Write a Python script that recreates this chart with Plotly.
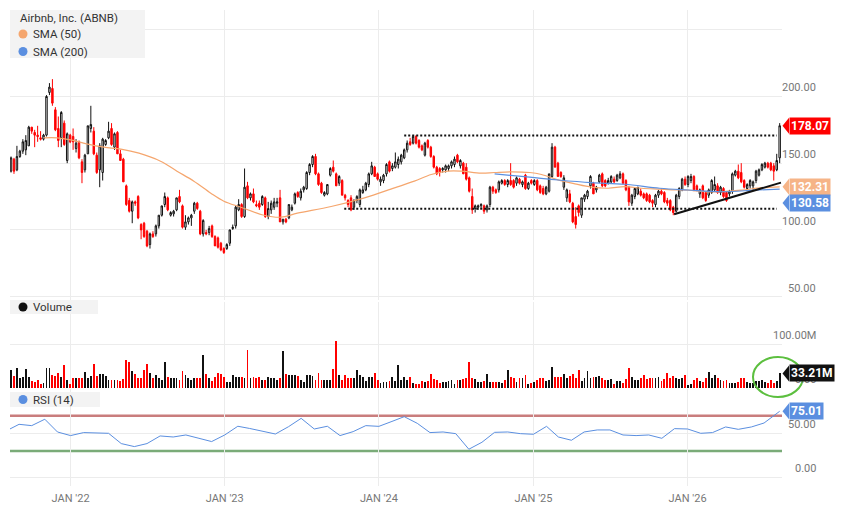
import pandas as pd
import plotly.graph_objects as go

# weekly candles, Aug 2021 -> Aug 2026
weeks = pd.date_range("2021-08-13", periods=261, freq="7D")

opens = [144, 153, 145, 155, 159, 160, 163, 177, 173, 171,
         169, 168, 171, 203, 206, 190, 176, 169, 180, 152,
         171, 170, 161, 166, 151, 145, 157, 176, 174, 156,
         145, 143, 164, 169, 176, 162, 173, 157, 153, 133,
         122, 114, 121, 125, 104, 105, 99, 89, 97, 97,
         103, 111, 119, 124, 111, 112, 115, 125, 118, 102,
         106, 109, 114, 120, 114, 97, 98, 98, 103, 95,
         94, 90, 86, 86, 90, 101, 103, 115, 119, 110,
         133, 124, 127, 119, 120, 119, 124, 110, 115, 117,
         120, 124, 106, 108, 109, 115, 120, 128, 124, 130,
         131, 143, 149, 155, 142, 135, 126, 127, 141, 147,
         142, 135, 137, 126, 122, 124, 117, 122, 119, 128,
         130, 134, 142, 147, 142, 136, 137, 142, 151, 146,
         147, 149, 151, 154, 160, 166, 165, 170, 167, 163,
         156, 167, 162, 155, 147, 146, 145, 145, 146, 148,
         149, 156, 148, 150, 147, 139, 125, 116, 117, 118,
         118, 115, 119, 132, 130, 130, 135, 137, 134, 137,
         137, 135, 138, 134, 141, 131, 137, 134, 137, 133,
         131, 127, 129, 140, 162, 150, 143, 132, 124, 127,
         120, 110, 118, 111, 123, 125, 133, 135, 130, 136,
         142, 137, 135, 136, 138, 137, 139, 142, 137, 132,
         120, 125, 127, 129, 127, 127, 126, 122, 119, 126,
         129, 128, 122, 122, 117, 114, 125, 130, 138, 134,
         137, 140, 133, 127, 133, 128, 126, 128, 130, 133,
         128, 131, 128, 127, 129, 141, 144, 143, 137, 131,
         133, 133, 137, 141, 145, 147, 150, 150, 148, 145, 154]
highs = [155, 154, 163, 160, 168, 171, 178, 177, 175, 178,
         174, 172, 201, 210, 213, 192, 185, 189, 182, 173,
         172, 176, 168, 167, 153, 157, 178, 193, 177, 158,
         165, 169, 168, 181, 180, 173, 174, 160, 154, 134,
         124, 122, 122, 126, 105, 106, 100, 98, 99, 104,
         111, 118, 128, 125, 114, 115, 124, 130, 119, 111,
         110, 112, 121, 121, 115, 108, 100, 103, 104, 96,
         95, 91, 87, 90, 100, 104, 118, 123, 120, 146,
         136, 128, 131, 122, 122, 126, 125, 121, 122, 124,
         124, 130, 108, 109, 119, 119, 128, 129, 131, 133,
         144, 150, 156, 157, 143, 136, 129, 134, 147, 152,
         143, 141, 138, 127, 123, 126, 123, 126, 131, 133,
         136, 143, 151, 148, 143, 140, 142, 150, 152, 150,
         158, 155, 157, 161, 167, 169, 171, 171, 168, 164,
         166, 168, 163, 156, 148, 147, 147, 149, 149, 152,
         155, 157, 153, 151, 150, 140, 131, 119, 119, 120,
         119, 119, 133, 133, 131, 137, 138, 138, 138, 150,
         138, 140, 139, 137, 142, 136, 138, 138, 138, 134,
         133, 133, 142, 165, 163, 151, 144, 141, 131, 130,
         121, 117, 119, 124, 127, 130, 141, 136, 133, 142,
         143, 138, 139, 141, 140, 142, 144, 143, 138, 133,
         127, 131, 132, 131, 128, 128, 127, 123, 127, 130,
         131, 129, 124, 123, 118, 127, 132, 139, 140, 141,
         142, 141, 134, 131, 134, 129, 131, 138, 140, 135,
         133, 132, 129, 130, 143, 145, 149, 150, 138, 135,
         138, 137, 145, 146, 150, 151, 151, 151, 150, 157, 180]
lows = [143, 142, 144, 154, 157, 156, 163, 172, 162, 166,
        167, 167, 170, 201, 193, 174, 162, 162, 163, 150,
        165, 160, 158, 153, 135, 143, 157, 173, 156, 142,
        132, 137, 163, 168, 163, 160, 157, 152, 136, 118,
        113, 105, 118, 108, 93, 94, 87, 86, 94, 95,
        101, 110, 117, 114, 110, 110, 114, 120, 101, 100,
        104, 103, 112, 115, 96, 95, 96, 96, 94, 88,
        86, 84, 82, 85, 88, 100, 101, 114, 109, 109,
        123, 122, 120, 117, 115, 118, 109, 108, 112, 115,
        117, 106, 104, 105, 108, 114, 119, 124, 122, 128,
        130, 141, 147, 141, 133, 127, 125, 126, 140, 143,
        133, 133, 126, 122, 117, 114, 115, 120, 117, 127,
        129, 132, 141, 140, 137, 133, 135, 140, 143, 144,
        146, 146, 149, 153, 158, 163, 164, 164, 161, 159,
        155, 161, 154, 146, 141, 140, 143, 143, 144, 146,
        147, 150, 146, 142, 137, 128, 112, 113, 115, 116,
        112, 113, 117, 127, 127, 128, 134, 133, 132, 133,
        131, 133, 134, 132, 130, 130, 134, 133, 129, 127,
        126, 126, 128, 139, 147, 140, 139, 130, 121, 120,
        105, 101, 110, 109, 121, 123, 131, 127, 128, 135,
        132, 132, 134, 135, 135, 136, 138, 134, 129, 118,
        118, 123, 126, 125, 123, 121, 120, 117, 117, 124,
        126, 120, 118, 114, 111, 113, 123, 129, 133, 132,
        135, 129, 129, 124, 123, 121, 124, 127, 129, 127,
        126, 124, 121, 125, 127, 140, 138, 135, 131, 129,
        131, 130, 135, 140, 144, 146, 146, 144, 137, 144, 150]
closes = [154, 144, 155, 159, 166, 167, 177, 174, 171, 170,
          168, 171, 200, 207, 195, 175, 167, 188, 164, 172,
          166, 166, 165, 154, 143, 156, 178, 179, 157, 143,
          163, 168, 167, 174, 164, 172, 157, 152, 136, 119,
          114, 121, 120, 109, 100, 95, 88, 97, 95, 103,
          111, 118, 125, 115, 113, 114, 124, 121, 102, 106,
          109, 111, 120, 116, 97, 107, 97, 101, 95, 88,
          87, 85, 83, 89, 100, 102, 117, 119, 110, 132,
          124, 127, 121, 118, 117, 125, 110, 116, 120, 121,
          121, 106, 108, 106, 119, 117, 127, 125, 129, 132,
          143, 149, 155, 142, 134, 128, 128, 134, 146, 144,
          133, 140, 126, 124, 119, 115, 122, 125, 130, 130,
          135, 142, 148, 140, 138, 138, 141, 149, 144, 148,
          151, 153, 156, 160, 165, 164, 170, 165, 162, 160,
          165, 162, 155, 147, 142, 143, 146, 148, 148, 151,
          153, 151, 152, 142, 138, 129, 115, 118, 118, 119,
          114, 118, 132, 129, 128, 136, 137, 134, 137, 134,
          132, 139, 135, 136, 131, 135, 135, 137, 130, 128,
          127, 132, 142, 162, 147, 140, 140, 139, 130, 121,
          106, 104, 113, 124, 126, 129, 140, 127, 132, 141,
          133, 133, 137, 140, 136, 141, 142, 135, 130, 121,
          126, 131, 132, 126, 124, 122, 121, 120, 126, 129,
          127, 121, 120, 115, 113, 126, 131, 138, 134, 140,
          140, 130, 130, 130, 124, 122, 130, 137, 134, 128,
          132, 125, 122, 129, 142, 144, 139, 136, 132, 134,
          137, 136, 144, 145, 149, 150, 147, 145, 144, 152, 178.07]

# weekly volume, millions of shares
volume_m = [41, 28, 46, 23, 25, 43, 25, 15, 14, 18,
            10, 12, 46, 46, 29, 27, 35, 25, 52, 18,
            9, 23, 23, 23, 22, 37, 23, 28, 55, 28,
            32, 32, 28, 18, 18, 18, 18, 16, 21, 64,
            60, 38, 31, 23, 22, 42, 54, 35, 23, 29,
            23, 18, 60, 25, 22, 22, 23, 18, 38, 29,
            23, 19, 23, 22, 23, 75, 32, 23, 15, 25,
            35, 32, 25, 14, 14, 29, 25, 25, 25, 23,
            87, 23, 25, 23, 25, 18, 18, 25, 23, 23,
            19, 23, 83, 32, 29, 29, 29, 28, 19, 14,
            29, 29, 28, 19, 35, 18, 18, 18, 18, 43,
            106, 29, 19, 29, 23, 23, 23, 42, 29, 25,
            15, 25, 25, 35, 18, 12, 14, 14, 15, 25,
            15, 52, 18, 24, 18, 25, 12, 10, 10,
            15, 14, 15, 32, 20, 18, 12, 14, 14, 16,
            18, 8, 18, 18, 20, 22, 60, 22, 20, 14,
            14, 16, 32, 14, 14, 14, 14, 12, 18,
            41, 25, 23, 14, 22, 22, 29, 8, 12, 14,
            18, 22, 22, 15, 18, 48, 25, 24, 25, 32,
            23, 27, 32, 23, 41, 16, 22, 38, 23, 25,
            25, 28, 22, 18, 18, 20, 10, 15, 15, 12,
            20, 45, 25, 18, 18, 23, 29, 20, 22, 22,
            22, 25, 15, 20, 35, 22, 28, 22, 20, 22,
            29, 6, 10, 19, 23, 15, 14, 22, 37, 22,
            29, 22, 18, 16, 18, 12, 12, 12, 14,
            23, 22, 14, 12, 12, 15, 15, 18, 14, 12,
            18, 12, 15, 33.21]

# monthly RSI(14)
rsi_dates = list(pd.date_range("2021-08-01", periods=60, freq="MS")) + [pd.Timestamp("2026-08-07")]
rsi = [52.6, 60.2, 58.7, 66, 51.5,
       47.4, 50.8, 50.5, 50, 38.3, 34.9, 38.3, 47, 45.8, 48.1, 44.3, 40.6,
       48.1, 58, 55.5, 52.5, 49.2, 57.5, 67, 54.9, 58, 47.4, 51.9, 58.7,
       57.9, 63.5, 68.9, 61.3, 50.8, 51.5, 49.6, 31.9, 39.8, 51.1, 51.5, 49.6,
       48.9, 57.9, 45.8, 42.1, 51.5, 53.8, 53.8, 48.1, 47.4, 48.1, 44.3, 55.3,
       54.9, 50, 50.8, 57.2, 54.5, 57.2, 61.7, 75.01]

sma50_dates = ["2021-10-30", "2021-11-30", "2022-01-01", "2022-02-08", "2022-03-21",
               "2022-04-30", "2022-06-12", "2022-08-02", "2022-09-10", "2022-10-20",
               "2022-11-29", "2022-12-30", "2023-02-08", "2023-04-04", "2023-05-14",
               "2023-06-22", "2023-09-10", "2023-11-28", "2024-02-07", "2024-03-25",
               "2024-05-04", "2024-06-12", "2024-07-14", "2024-08-30", "2024-10-01",
               "2024-11-10", "2024-12-23", "2025-01-20", "2025-02-28", "2025-04-09",
               "2025-05-18", "2025-06-27", "2025-08-05", "2025-09-14", "2025-10-27",
               "2025-11-24", "2026-01-02", "2026-02-11", "2026-03-23", "2026-05-09",
               "2026-06-26", "2026-08-07"]
sma50 = [169, 169, 167.5, 164.5, 162, 160.5, 157.5, 151.5, 144, 136.5,
         127.5, 121.5, 117, 111, 109.5, 112.5, 117.5, 124, 131.5, 136.5,
         141.5, 144, 144, 142.5, 143, 143.5, 143, 141.5, 137.5, 134.5,
         132, 131.2, 132.4, 131.2, 130.5, 130, 129.8, 128.6, 128.6, 129.8,
         131.6, 132.31]

sma200_dates = ["2024-10-01", "2024-12-23", "2025-02-28", "2025-05-18", "2025-08-05",
                "2025-10-27", "2026-01-02", "2026-03-23", "2026-06-10", "2026-08-07"]
sma200 = [142, 139.5, 137.4, 135.4, 134.2, 131.2, 129.9, 128.6, 129.8, 130.58]

# drawn levels: resistance, support, rising trendline
resist_dates = ["2024-03-01", "2026-07-31"]
resist_level = 170.8
support_dates = ["2023-10-11", "2026-07-31"]
support_level = 115.8
trend_dates = ["2025-11-30", "2026-08-10"]
trend_prices = [111.7, 135.4]

year_ticks = ["2022-01-01", "2023-01-01", "2024-01-01", "2025-01-01", "2026-01-01"]
year_labels = ["JAN '22", "JAN '23", "JAN '24", "JAN '25", "JAN '26"]
price_ticks = [50, 100, 150, 200, 250]
price_labels = ["50.00", "100.00", "150.00", "200.00", ""]
vol_ticks = [0, 100]
vol_labels = ["0.00", "100.00M"]
rsi_ticks = [0, 50]
rsi_labels = ["0.00", "50.00"]

# the page puts the figure 8px in from the top-left corner
W, H = 843, 508
ML, MR, MT, MB = 2, 69, 2, 30


def fx(px):
    # screen x (px) -> paper fraction
    return (px - 10) / 772


def fy(py):
    # screen y (px) -> paper fraction
    return (486 - py) / 476


FONT = "Roboto"
RED = "#ff0000"
ORANGE = "#f5a66e"
BLUE = "#5b8fe0"
GRID = "#ececec"

vol_colors = [RED if c < o else "#111111" for o, c in zip(opens, closes)]

fig = go.Figure()
fig.add_trace(go.Candlestick(x=weeks, open=opens, high=highs, low=lows, close=closes,
                             increasing=dict(line=dict(color="#111111", width=1), fillcolor="white"),
                             decreasing=dict(line=dict(color=RED, width=1), fillcolor=RED),
                             whiskerwidth=0, showlegend=False, yaxis="y"))
fig.add_trace(go.Scatter(x=sma50_dates, y=sma50, mode="lines", yaxis="y",
                         line=dict(color=ORANGE, width=1.2, shape="spline"), showlegend=False))
fig.add_trace(go.Scatter(x=sma200_dates, y=sma200, mode="lines", yaxis="y",
                         line=dict(color=BLUE, width=1.2, shape="spline"), showlegend=False))
fig.add_trace(go.Bar(x=weeks, y=volume_m, marker=dict(color=vol_colors, line=dict(width=0)),
                     width=2.0 * 86400000, yaxis="y2", showlegend=False))
fig.add_trace(go.Scatter(x=rsi_dates, y=rsi, mode="lines", yaxis="y3",
                         line=dict(color=BLUE, width=1), showlegend=False))

shapes = []
# overbought / oversold
shapes.append(dict(type="line", xref="paper", yref="y3", x0=0, x1=1, y0=70, y1=70,
                   line=dict(color="#c97d7d", width=2.5), layer="below"))
shapes.append(dict(type="line", xref="paper", yref="y3", x0=0, x1=1, y0=30, y1=30,
                   line=dict(color="#7aab78", width=2.5), layer="below"))
# levels and trendline
shapes.append(dict(type="line", xref="x", yref="y", x0=resist_dates[0], x1=resist_dates[1],
                   y0=resist_level, y1=resist_level, line=dict(color="#111", width=2, dash="2px,2px")))
shapes.append(dict(type="line", xref="x", yref="y", x0=support_dates[0], x1=support_dates[1],
                   y0=support_level, y1=support_level, line=dict(color="#111", width=2, dash="2px,2px")))
shapes.append(dict(type="line", xref="x", yref="y", x0=trend_dates[0], x1=trend_dates[1],
                   y0=trend_prices[0], y1=trend_prices[1], line=dict(color="#111", width=2)))
# green circle on last volume bars
shapes.append(dict(type="circle", xref="paper", yref="paper", x0=fx(753), x1=fx(803),
                   y0=fy(397), y1=fy(357), line=dict(color="#5cbf3f", width=2)))
# right edge of the frame
shapes.append(dict(type="line", xref="paper", yref="paper", x0=fx(845), x1=fx(845),
                   y0=fy(516), y1=fy(8), line=dict(color="#e2e2e2", width=1.5)))
# legend boxes
for x0, x1, y0, y1 in [(10, 145, 10, 58), (10, 98, 300, 314), (10, 100, 392, 407)]:
    shapes.append(dict(type="rect", xref="paper", yref="paper", x0=fx(x0), x1=fx(x1),
                       y0=fy(y1), y1=fy(y0), fillcolor="#f3f3f3", line=dict(width=0), layer="above"))
for cx, cy, col in [(23, 34, ORANGE), (23, 51.5, BLUE), (23, 307, "#111"), (23, 399.5, BLUE)]:
    shapes.append(dict(type="circle", xref="paper", yref="paper", x0=fx(cx - 4.5), x1=fx(cx + 4.5),
                       y0=fy(cy + 4.5), y1=fy(cy - 4.5), fillcolor=col, line=dict(width=0), layer="above"))

ann = []
for txt, px, py in [("Airbnb, Inc. (ABNB)", 18, 17.5), ("SMA (50)", 31, 34), ("SMA (200)", 31, 51.5),
                    ("Volume", 31, 307), ("RSI (14)", 31, 399.5)]:
    ann.append(dict(text=txt, xref="paper", yref="paper", x=fx(px), y=fy(py),
                    xanchor="left", yanchor="middle", showarrow=False,
                    font=dict(family=FONT, size=11.5, color="#333")))

# right-hand tick labels, right aligned, sitting on their gridline
for ref, ticks, labels in [("y", price_ticks, price_labels), ("y2", vol_ticks, vol_labels),
                           ("y3", rsi_ticks, rsi_labels)]:
    for v, lab in zip(ticks, labels):
        if lab:
            ann.append(dict(text=lab, xref="paper", yref=ref, x=1, y=v, xshift=36, xanchor="right",
                            yanchor="bottom", showarrow=False, font=dict(family=FONT, size=11, color="#777")))

# last-value tags
tags = [("178.07", closes[-1], "y", RED, 0), ("132.31", sma50[-1], "y", "#f6b487", 0),
        ("130.58", sma200[-1], "y", BLUE, -14), ("33.21M", volume_m[-1], "y2", "#111111", 0),
        ("75.01", rsi[-1], "y3", BLUE, 0)]
for txt, v, ref, col, ys in tags:
    ann.append(dict(text="<b>%s</b>" % txt, xref="paper", yref=ref, x=1, y=v, xshift=6.5, yshift=ys,
                    xanchor="left", yanchor="middle", showarrow=False, bgcolor=col, borderpad=1,
                    font=dict(family=FONT, size=12, color="white")))
    shapes.append(dict(type="path", xref="paper", yref=ref, xsizemode="pixel", ysizemode="pixel",
                       xanchor=1, yanchor=v,
                       path="M 0.5,%g L 7,%g L 7,%g Z" % (ys, ys + 8, ys - 8),
                       fillcolor=col, line=dict(width=0)))

fig.update_layout(
    width=W, height=H, margin=dict(l=ML, r=MR, t=MT, b=MB),
    paper_bgcolor="white", plot_bgcolor="white", showlegend=False,
    font=dict(family=FONT, size=11, color="#777"),
    bargap=0,
    xaxis=dict(type="date", range=["2021-08-10 14:00", "2026-08-12 12:00"], anchor="y3",
               showgrid=True, gridcolor=GRID, zeroline=False, showline=False,
               tickvals=year_ticks, ticktext=year_labels, ticks="outside", ticklen=2,
               tickcolor="rgba(0,0,0,0)", tickfont=dict(family=FONT, size=11, color="#777"),
               rangeslider=dict(visible=False)),
    yaxis=dict(domain=[fy(300), 1], range=[47.45, 264.8], side="right", anchor="x",
               tickvals=price_ticks, showticklabels=False, gridcolor=GRID, zeroline=False),
    yaxis2=dict(domain=[fy(388), fy(302)], range=[0, 195.45], side="right", anchor="x",
                tickvals=vol_ticks, showticklabels=False, gridcolor=GRID, zeroline=False),
    yaxis3=dict(domain=[0, fy(389)], range=[-9.89, 100.34], side="right", anchor="x",
                tickvals=rsi_ticks, showticklabels=False, gridcolor=GRID, zeroline=False),
    shapes=shapes, annotations=ann,
)

fig.write_html("out.html")
